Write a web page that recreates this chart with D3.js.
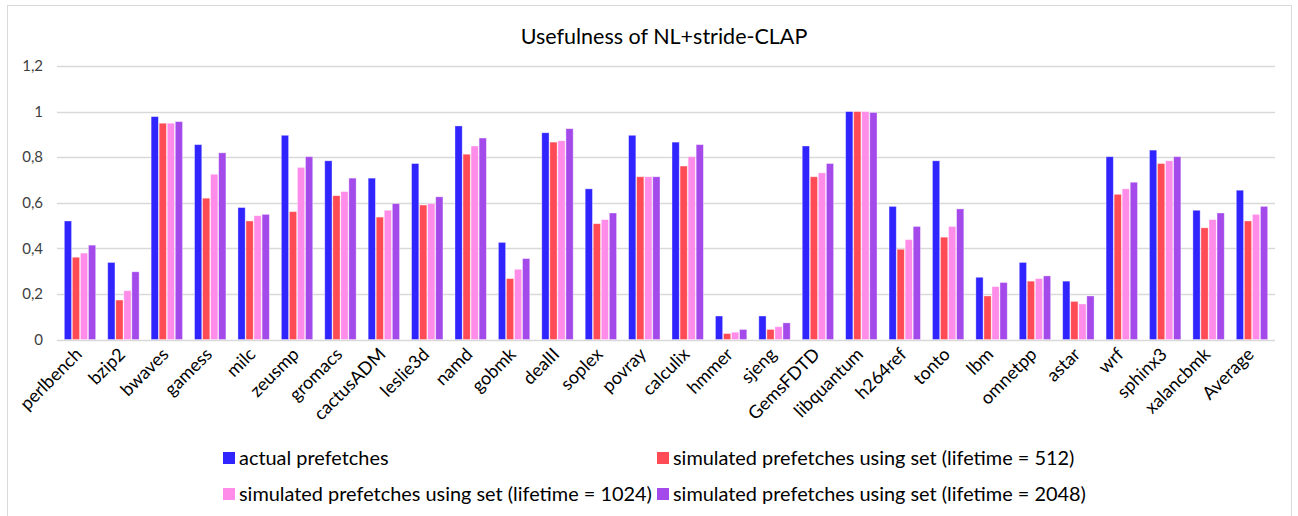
<!DOCTYPE html>
<html>
<head>
<meta charset="utf-8">
<script src="https://cdn.jsdelivr.net/npm/d3@7"></script>
<style>
  html, body { margin: 0; padding: 0; background: #fff; }
  svg { display: block; font-family: Lato, "Liberation Sans", sans-serif; }
</style>
</head>
<body>
<svg id="chart" width="1298" height="516"></svg>
<script>
// Benchmarks (x categories)
const categories = ["perlbench", "bzip2", "bwaves", "gamess", "milc", "zeusmp", "gromacs",
  "cactusADM", "leslie3d", "namd", "gobmk", "dealII", "soplex", "povray", "calculix",
  "hmmer", "sjeng", "GemsFDTD", "libquantum", "h264ref", "tonto", "lbm", "omnetpp",
  "astar", "wrf", "sphinx3", "xalancbmk", "Average"];

const seriesNames = [
  "actual prefetches",
  "simulated prefetches using set (lifetime = 512)",
  "simulated prefetches using set (lifetime = 1024)",
  "simulated prefetches using set (lifetime = 2048)"
];

const actual = [0.520, 0.338, 0.978, 0.855, 0.579, 0.896, 0.784, 0.708, 0.772, 0.937,
  0.426, 0.907, 0.661, 0.896, 0.866, 0.103, 0.103, 0.849, 1.000, 0.584, 0.784, 0.273,
  0.338, 0.256, 0.802, 0.831, 0.567, 0.655];
const life512 = [0.361, 0.173, 0.949, 0.620, 0.520, 0.561, 0.631, 0.537, 0.590, 0.813,
  0.267, 0.866, 0.508, 0.714, 0.761, 0.026, 0.044, 0.714, 1.000, 0.396, 0.449, 0.191,
  0.256, 0.167, 0.637, 0.772, 0.490, 0.520];
const life1024 = [0.379, 0.214, 0.949, 0.725, 0.543, 0.755, 0.649, 0.567, 0.596, 0.849,
  0.308, 0.872, 0.526, 0.714, 0.802, 0.032, 0.056, 0.731, 1.000, 0.438, 0.496, 0.232,
  0.267, 0.156, 0.661, 0.784, 0.526, 0.549];
const life2048 = [0.414, 0.297, 0.956, 0.819, 0.549, 0.802, 0.708, 0.596, 0.626, 0.884,
  0.355, 0.925, 0.555, 0.714, 0.855, 0.044, 0.073, 0.772, 0.996, 0.496, 0.573, 0.250,
  0.279, 0.191, 0.690, 0.802, 0.555, 0.584];

const yTicks = [0, 0.2, 0.4, 0.6, 0.8, 1, 1.2];
const colors = ["#3024FF", "#FF4B55", "#FF8CE8", "#A449EA"];

const seriesValues = [actual, life512, life1024, life2048];

const svg = d3.select("#chart");
const plot = { left: 57, right: 1275, top: 66, bottom: 339.5 };

// Chart frame
svg.append("rect")
  .attr("x", 7.5).attr("y", 5.5)
  .attr("width", 1284).attr("height", 530)
  .attr("fill", "#fff").attr("stroke", "#d9d9d9").attr("stroke-width", 1);

const x0 = d3.scaleBand()
  .domain(categories)
  .range([plot.left, plot.right])
  .paddingInner(0.24)
  .paddingOuter(0.15);

const x1 = d3.scaleBand()
  .domain(d3.range(seriesValues.length))
  .range([0, x0.bandwidth()])
  .padding(0.1);

const y = d3.scaleLinear().domain([0, 1.2]).range([plot.bottom, plot.top]);

const locale = d3.formatLocale({ decimal: ",", thousands: ".", grouping: [3], currency: ["", ""] });
const fmt = v => locale.format("~g")(v);

// Gridlines
svg.append("g")
  .selectAll("line")
  .data(yTicks)
  .join("line")
  .attr("x1", plot.left).attr("x2", plot.right)
  .attr("y1", d => Math.round(y(d)) + 0.5).attr("y2", d => Math.round(y(d)) + 0.5)
  .attr("stroke", "#d9d9d9").attr("stroke-width", 1.3);

// Y axis labels
const yAxis = d3.axisLeft(y).tickValues(yTicks).tickFormat(fmt).tickSize(0).tickPadding(0);
const gy = svg.append("g").attr("transform", `translate(${plot.left - 14},0)`).call(yAxis);
gy.select(".domain").remove();
gy.selectAll("text")
  .attr("font-size", 15).attr("fill", "#404040")
  .attr("font-family", "Lato, 'Liberation Sans', sans-serif");

// Bars
const groups = svg.append("g")
  .selectAll("g")
  .data(categories)
  .join("g")
  .attr("transform", d => `translate(${x0(d)},0)`);

groups.selectAll("rect")
  .data((d, i) => seriesValues.map((s, k) => ({ k, v: s[i] })))
  .join("rect")
  .attr("x", d => x1(d.k))
  .attr("y", d => y(d.v))
  .attr("width", x1.bandwidth())
  .attr("height", d => y(0) - y(d.v))
  .attr("fill", d => colors[d.k])
  .attr("stroke", "#ffffff").attr("stroke-opacity", 0.45).attr("stroke-width", 0.8);

// X axis labels, rotated
const xAxis = d3.axisBottom(x0).tickSize(0).tickPadding(0);
const gx = svg.append("g").attr("transform", `translate(0,${plot.bottom})`).call(xAxis);
gx.select(".domain").remove();
gx.selectAll("text")
  .attr("font-size", 18).attr("fill", "#000")
  .attr("font-family", "Lato, 'Liberation Sans', sans-serif")
  .attr("text-anchor", "end")
  .attr("dy", null).attr("y", 0)
  .attr("transform", "translate(3,16) rotate(-45)");

// Title
svg.append("text")
  .attr("x", 664).attr("y", 44)
  .attr("text-anchor", "middle")
  .attr("font-size", 21.5).attr("fill", "#000")
  .attr("font-family", "Lato, 'Liberation Sans', sans-serif")
  .text("Usefulness of NL+stride-CLAP");

// Legend (2 x 2)
const legendPos = [[223, 452], [657, 452], [223, 488], [657, 488]];
const lg = svg.append("g")
  .selectAll("g")
  .data(seriesNames)
  .join("g")
  .attr("transform", (d, i) => `translate(${legendPos[i][0]},${legendPos[i][1]})`);
lg.append("rect").attr("width", 12).attr("height", 12).attr("fill", (d, i) => colors[i]);
lg.append("text")
  .attr("x", 16).attr("y", 12.5)
  .attr("font-size", 19.9).attr("fill", "#000")
  .attr("font-family", "Lato, 'Liberation Sans', sans-serif")
  .text(d => d);
</script>
</body>
</html>
